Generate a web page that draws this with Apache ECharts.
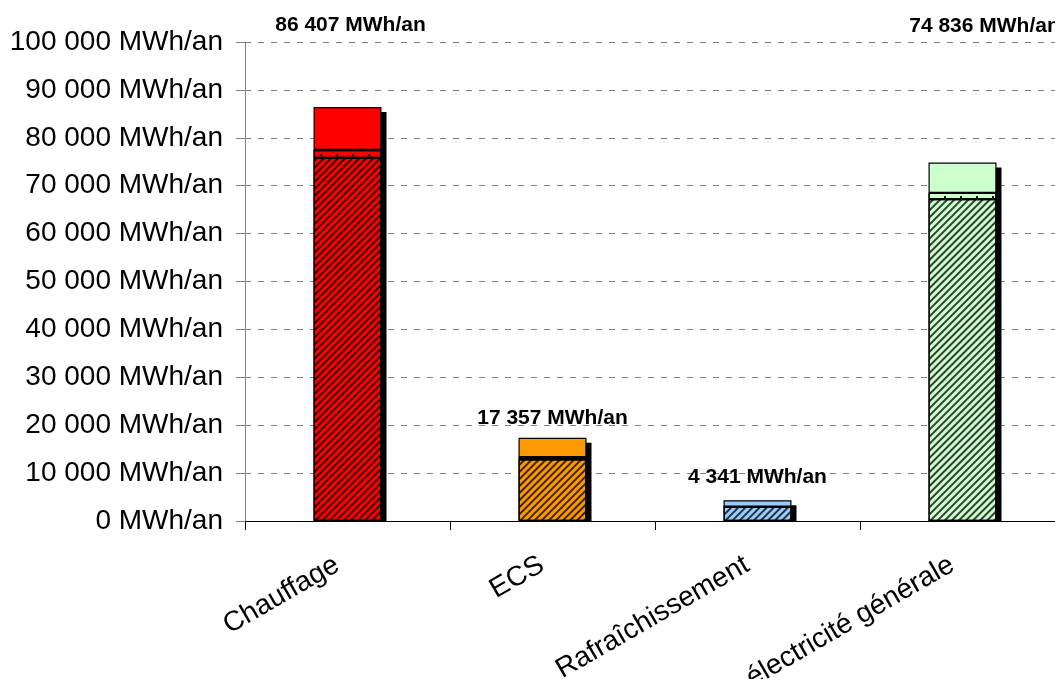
<!DOCTYPE html>
<html>
<head>
<meta charset="utf-8">
<script src="https://cdn.jsdelivr.net/npm/echarts@6/dist/echarts.min.js"></script>
<style>
html,body{margin:0;padding:0;background:#fff;}
#chart{width:1055px;height:679px;}
</style>
</head>
<body>
<div id="chart"></div>
<script>
// ---- data ----
const categories = ['Chauffage', 'ECS', 'Rafraîchissement', 'électricité générale'];
const hatchedValues = [75800, 12900, 3000, 67200];
const dottedValues = [1650, 400, 0, 1300];
const solidValues = [8957, 4057, 1341, 6336];
const totals = [86407, 17357, 4341, 74836];
const barColors = ['#FF0000', '#FF9900', '#99CCFF', '#CCFFCC'];
const yTicks = [0, 10000, 20000, 30000, 40000, 50000, 60000, 70000, 80000, 90000, 100000];

// ---- layout (label placement only) ----
const labelOffsets = [[3, -66], [0, -4], [0, -8], [22, -121]];

function fmt(v) {
  return String(v).replace(/\B(?=(\d{3})+(?!\d))/g, ' ');
}

const FONT = '"Liberation Sans", Arial, sans-serif';

const hatchDecal = {
  symbol: 'rect', symbolSize: 1, color: 'rgba(0,0,0,0.75)',
  dashArrayX: [1, 0], dashArrayY: [2, 2.5], rotation: -Math.PI / 4
};
const dotDecal = {
  symbol: 'rect', symbolSize: 1, color: 'rgba(0,0,0,0.9)',
  dashArrayX: [2, 14], dashArrayY: [2, 5], rotation: 0
};

function seg(values, decal) {
  return values.map((v, i) => {
    const st = {color: barColors[i], borderColor: '#000', borderWidth: 1.2};
    if (decal) st.decal = decal;
    return {value: v, itemStyle: st};
  });
}

const chart = echarts.init(document.getElementById('chart'), null, {renderer: 'canvas'});
chart.setOption({
  backgroundColor: '#fff',
  animation: false,
  grid: {left: 245, top: 42, width: 820, height: 479, containLabel: false, outerBoundsMode: 'none'},
  xAxis: {
    type: 'category',
    data: categories,
    axisLine: {lineStyle: {color: '#000', width: 1}},
    axisTick: {show: true, length: 9, lineStyle: {color: '#000'}},
    axisLabel: {rotate: 30, fontSize: 28, fontFamily: FONT, color: '#000', margin: 36,
      padding: [0, 12, 0, 0], interval: 0}
  },
  yAxis: {
    type: 'value',
    min: yTicks[0], max: yTicks[yTicks.length - 1], interval: yTicks[1] - yTicks[0],
    axisLine: {show: true, lineStyle: {color: '#808080', width: 1}},
    axisTick: {show: true, length: 9, lineStyle: {color: '#808080'}},
    axisLabel: {fontSize: 28, fontFamily: FONT, color: '#000', margin: 22,
      formatter: v => fmt(v) + ' MWh/an'},
    splitLine: {show: true, lineStyle: {color: '#808080', type: [6, 7], width: 1}}
  },
  series: [
    {
      type: 'custom',
      z: 1,
      data: totals.map((t, i) => [i, t]),
      renderItem: function (params, api) {
        const top = api.coord([api.value(0), api.value(1)]);
        const base = api.coord([api.value(0), 0]);
        const w = 68;
        return {
          type: 'rect',
          shape: {x: top[0] - w / 2 + 5, y: top[1] + 5, width: w, height: Math.max(0, base[1] - top[1] - 5)},
          style: {fill: '#000'}
        };
      }
    },
    {type: 'bar', stack: 't', barWidth: 68, z: 2, data: seg(hatchedValues, hatchDecal)},
    {type: 'bar', stack: 't', barWidth: 68, z: 2, data: seg(dottedValues, dotDecal)},
    {
      type: 'bar', stack: 't', barWidth: 68, z: 2, data: seg(solidValues).map((d, i) => Object.assign(d, {
        label: {
          show: true, position: 'top', distance: 5, offset: labelOffsets[i],
          formatter: () => fmt(totals[i]) + ' MWh/an',
          fontSize: 21, fontWeight: 'bold', fontFamily: FONT, color: '#000'
        }
      }))
    }
  ]
});
</script>
</body>
</html>
